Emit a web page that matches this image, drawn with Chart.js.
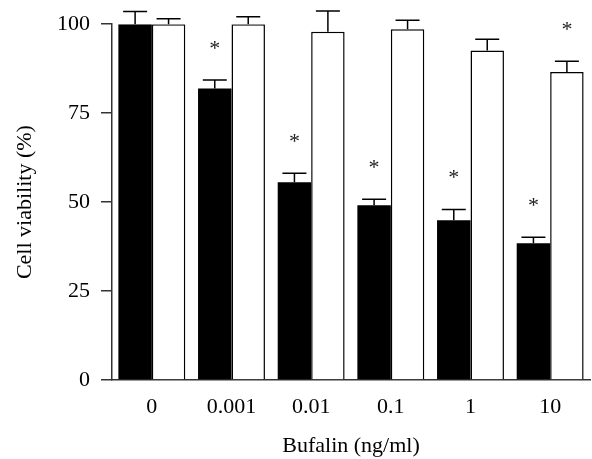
<!DOCTYPE html>
<html>
<head>
<meta charset="utf-8">
<script src="https://cdn.jsdelivr.net/npm/chart.js@4"></script>
<style>
  html, body { margin: 0; padding: 0; background: #fff; }
  #wrap { width: 592px; height: 459px; }
</style>
</head>
<body>
<div id="wrap"><canvas id="viabilityChart"></canvas></div>
<script>
// 數據
const doses = ['0', '0.001', '0.01', '0.1', '1', '10'];
const blackMean = [100, 81.9, 55.6, 49.1, 44.9, 38.4];
const blackErr = [3.6, 2.4, 2.5, 1.7, 3.0, 1.7];
const blackStar = [false, true, true, true, true, true];
const whiteMean = [100, 100, 97.9, 98.6, 92.6, 86.6];
const whiteErr = [1.5, 2.1, 5.8, 2.5, 3.2, 3.0];
const whiteStar = [false, false, false, false, false, true];
const yTicks = [0, 25, 50, 75, 100];

const serif = '"Liberation Serif", "Times New Roman", serif';
const ink = '#000';

// 誤差線 + 星號
const errorBarPlugin = {
  id: 'errorBars',
  afterDatasetsDraw(chart) {
    const ctx = chart.ctx;
    const y = chart.scales.y;
    const sets = [
      { err: blackErr, star: blackStar },
      { err: whiteErr, star: whiteStar }
    ];
    ctx.save();
    ctx.strokeStyle = ink;
    ctx.lineWidth = 1.5;
    ctx.fillStyle = '#222';
    ctx.font = '22px ' + serif;
    ctx.textAlign = 'center';
    ctx.textBaseline = 'middle';
    sets.forEach((s, di) => {
      const meta = chart.getDatasetMeta(di);
      const vals = chart.data.datasets[di].data;
      meta.data.forEach((bar, i) => {
        const top = y.getPixelForValue(vals[i]);
        const cap = y.getPixelForValue(vals[i] + s.err[i]);
        ctx.beginPath();
        ctx.moveTo(bar.x, top);
        ctx.lineTo(bar.x, cap);
        ctx.moveTo(bar.x - 12, cap);
        ctx.lineTo(bar.x + 12, cap);
        ctx.stroke();
        if (s.star[i]) {
          ctx.fillText('*', bar.x, cap - 31);
        }
      });
    });
    ctx.restore();
  }
};

const ctx = document.getElementById('viabilityChart').getContext('2d');
new Chart(ctx, {
  type: 'bar',
  data: {
    labels: doses,
    datasets: [
      {
        label: 'black',
        data: blackMean,
        backgroundColor: '#000',
        borderWidth: 0
      },
      {
        label: 'white',
        data: whiteMean,
        backgroundColor: '#fff',
        borderColor: '#000',
        borderWidth: 1.5
      }
    ]
  },
  options: {
    responsive: true,
    maintainAspectRatio: false,
    animation: false,
    layout: { padding: { top: 20, right: 2, left: 0, bottom: 0 } },
    datasets: { bar: { categoryPercentage: 0.84, barPercentage: 1 } },
    plugins: {
      legend: { display: false },
      tooltip: { enabled: false }
    },
    scales: {
      x: {
        grid: { display: false, drawTicks: false },
        border: { display: true, color: '#333', width: 1.5 },
        ticks: { color: ink, font: { family: serif, size: 22 }, padding: 14 },
        title: {
          display: true,
          text: 'Bufalin (ng/ml)',
          color: ink,
          font: { family: serif, size: 22 },
          padding: { top: 0, bottom: 0 }
        },
        afterFit(scale) { scale.height = 79; }
      },
      y: {
        min: 0,
        max: 100,
        afterBuildTicks(scale) { scale.ticks = yTicks.map(v => ({ value: v })); },
        grid: { drawOnChartArea: false, drawTicks: true, tickLength: 11, color: '#333', lineWidth: 1.5 },
        border: { display: true, color: '#333', width: 1.5 },
        ticks: { color: ink, font: { family: serif, size: 22 }, padding: 11 },
        title: {
          display: true,
          text: 'Cell viability (%)',
          color: ink,
          font: { family: serif, size: 22 },
          padding: { top: 12, bottom: 0 }
        },
        afterFit(scale) { scale.width = 112; }
      }
    }
  },
  plugins: [errorBarPlugin]
});
</script>
</body>
</html>
